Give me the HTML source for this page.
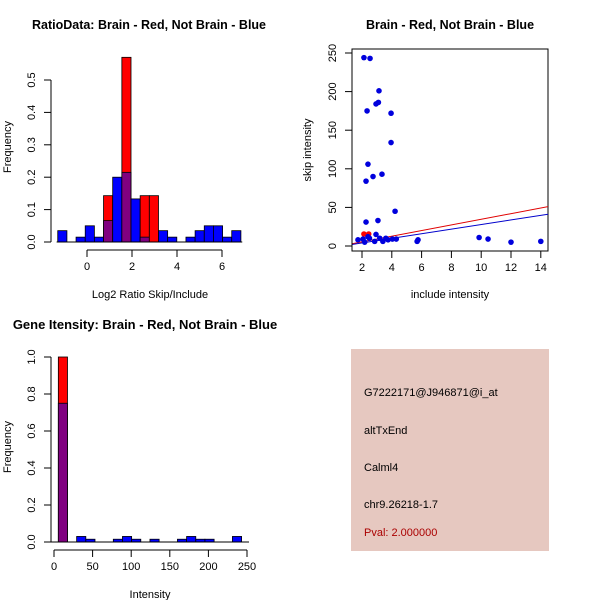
<!DOCTYPE html>
<html><head><meta charset="utf-8"><style>
html,body{margin:0;padding:0;background:#fff}
svg{display:block;font-family:"Liberation Sans",sans-serif}
</style></head><body>
<svg id="s" width="600" height="600" xmlns="http://www.w3.org/2000/svg"></svg>
<script>
// ---- Panel 1: ratio histogram ----
const ratioEdgeStart = -1.3, ratioBinWidth = 0.407;
const ratioBlue = [0.035,0,0.015,0.05,0.015,0.066,0.2,0.215,0.133,0.015,0,0.035,0.015,0,0.015,0.035,0.05,0.05,0.015,0.035];
const ratioRed  = [0,0,0,0,0,0.143,0,0.57,0,0.143,0.143,0,0,0,0,0,0,0,0,0];
const ratioXTicks = [0,2,4,6];
const ratioYTicks = [0,0.1,0.2,0.3,0.4,0.5];
// ---- Panel 2: scatter ----
const blueX = [2.13,2.54,3.14,3.1,2.94,2.34,3.95,3.95,2.4,2.74,3.34,2.27,4.22,3.07,2.27,9.86,10.46,12.0,14.0,5.7,5.76,1.73,2.07,2.5,2.94,3.19,3.75,4.04,4.3,3.4,2.85,2.4,2.18,3.6];
const blueY = [244,243,201,186,184,175,172,134,106,90,93,84,45,33,31,11,9,5,6,6,8,8,9,10,15,10,8,9,9,6,6,12,5,10];
const redX = [2.13,2.45];
const redY = [15.5,15.5];
const lineIntercepts = [-2,-2]; // red, blue
const lineSlopes = [3.66,2.98];
const scatXTicks = [2,4,6,8,10,12,14];
const scatYTicks = [0,50,100,150,200,250];
// ---- Panel 3: intensity histogram ----
const intEdgeStart = 5.6, intBinWidth = 11.87;
const intBlue = [0.75,0,0.03,0.015,0,0,0.015,0.03,0.015,0,0.015,0,0,0.015,0.03,0.015,0.015,0,0,0.03];
const intRed  = [1.0,0,0,0,0,0,0,0,0,0,0,0,0,0,0,0,0,0,0,0];
const intXTicks = [0,50,100,150,200,250];
const intYTicks = [0,0.2,0.4,0.6,0.8,1.0];

const svg = document.getElementById('s');
const NS = 'http://www.w3.org/2000/svg';
function el(tag, attrs, parent){const e=document.createElementNS(NS,tag);for(const k in attrs)e.setAttribute(k,attrs[k]);(parent||svg).appendChild(e);return e;}
function txt(x,y,s,attrs,parent){const t=el('text',Object.assign({x:x,y:y},attrs),parent);t.textContent=s;return t;}

function histogram(name, g, sx, sy, edge0, bw, blue, red, y0){
  for(let i=0;i<blue.length;i++){
    const x0=sx(edge0+i*bw), x1=sx(edge0+(i+1)*bw);
    const b=blue[i], r=red[i], m=Math.min(b,r), M=Math.max(b,r);
    if(M<=0) continue;
    const topCol = r>b ? '#ff0000' : '#0000ff';
    const bar=el('rect',{x:x0,y:sy(M),width:x1-x0,height:y0-sy(M),fill:topCol,stroke:'#000','stroke-width':0.8},g);
    
    
    if(m>0){
      const ov=el('rect',{x:x0,y:sy(m),width:x1-x0,height:y0-sy(m),fill:'#800080',stroke:'#000','stroke-width':0.8},g);
      
      
    }
  }
}
function xAxis(g, sx, ticks, y, fmt){
  el('line',{x1:sx(ticks[0]),x2:sx(ticks[ticks.length-1]),y1:y,y2:y,stroke:'#000'},g);
  ticks.forEach(t=>{el('line',{x1:sx(t),x2:sx(t),y1:y,y2:y+7,stroke:'#000'},g);
    txt(sx(t),y+20,fmt?fmt(t):String(t),{'font-size':11,'text-anchor':'middle'},g);});
}
function yAxis(g, sy, ticks, x, fmt){
  el('line',{x1:x,x2:x,y1:sy(ticks[0]),y2:sy(ticks[ticks.length-1]),stroke:'#000'},g);
  ticks.forEach(t=>{el('line',{x1:x-7,x2:x,y1:sy(t),y2:sy(t),stroke:'#000'},g);
    const yy=sy(t); const lx=x-16;
    txt(lx,yy,fmt?fmt(t):String(t),{'font-size':11,'text-anchor':'middle',transform:`rotate(-90 ${lx} ${yy})`},g);});
}

// Panel 1
{
  const g=el('g',{});
   
  const sx=v=>87+v*22.5, sy=v=>242-v*324;
  histogram('ratio',g,sx,sy,ratioEdgeStart,ratioBinWidth,ratioBlue,ratioRed,242);
  el('line',{x1:sx(-1.35),x2:sx(6.9),y1:242,y2:242,stroke:'#000','stroke-width':1},g);
  xAxis(g,sx,ratioXTicks,250);
  yAxis(g,sy,ratioYTicks,51,t=>t.toFixed(1));
  const t1=txt(149,29,'RatioData: Brain - Red, Not Brain - Blue',{'font-size':12.5,'font-weight':'bold','text-anchor':'middle'},g);
   
  txt(150,298,'Log2 Ratio Skip/Include',{'font-size':11,'text-anchor':'middle'},g);
  txt(11,147,'Frequency',{'font-size':11,'text-anchor':'middle',transform:'rotate(-90 11 147)'},g);
}
// Panel 2
{
  const g=el('g',{});
   
  const sx=v=>362+(v-2)*14.9, sy=v=>246-v*0.772;
  el('rect',{x:352,y:49,width:196,height:202,fill:'none',stroke:'#000'},g);
  const cp=el('clipPath',{id:'cp'},g); el('rect',{x:352,y:49,width:196,height:202},cp);
  const colors=['#e00000','#0000cc'];
  lineIntercepts.forEach((a,i)=>{
    const l=el('line',{x1:sx(1.3),y1:sy(a+lineSlopes[i]*1.3),x2:sx(14.5),y2:sy(a+lineSlopes[i]*14.5),stroke:colors[i],'stroke-width':1,'clip-path':'url(#cp)'},g);
    
    
  });
  redX.forEach((x,i)=>{const c=el('circle',{cx:sx(x),cy:sy(redY[i]),r:2.8,fill:'#ff0000'},g);
     });
  blueX.forEach((x,i)=>{const c=el('circle',{cx:sx(x),cy:sy(blueY[i]),r:2.8,fill:'#0000dd'},g);
     });
  xAxis(g,sx,scatXTicks,251);
  yAxis(g,sy,scatYTicks,352);
  txt(450,29,'Brain - Red, Not Brain - Blue',{'font-size':12.5,'font-weight':'bold','text-anchor':'middle'},g);
  txt(450,298,'include intensity',{'font-size':11,'text-anchor':'middle'},g);
  txt(311,150,'skip intensity',{'font-size':11,'text-anchor':'middle',transform:'rotate(-90 311 150)'},g);
}
// Panel 3
{
  const g=el('g',{});
   
  const sx=v=>54+v*0.772, sy=v=>542-v*185;
  histogram('intensity',g,sx,sy,intEdgeStart,intBinWidth,intBlue,intRed,542);
  el('line',{x1:51,x2:249,y1:542,y2:542,stroke:'#000'},g);
  xAxis(g,sx,intXTicks,550);
  yAxis(g,sy,intYTicks,51,t=>t.toFixed(1));
  txt(145,329,'Gene Itensity: Brain - Red, Not Brain - Blue',{'font-size':13,'font-weight':'bold','text-anchor':'middle'},g);
  txt(150,598,'Intensity',{'font-size':11,'text-anchor':'middle'},g);
  txt(11,447,'Frequency',{'font-size':11,'text-anchor':'middle',transform:'rotate(-90 11 447)'},g);
}
// Panel 4
{
  const g=el('g',{});
   
  el('rect',{x:351,y:349,width:198,height:202,fill:'#e6c8c0'},g);
  const lines=[['G7222171@J946871@i_at',396,'#000'],['altTxEnd',434,'#000'],['Calml4',471,'#000'],['chr9.26218-1.7',508,'#000'],['Pval: 2.000000',536,'#aa0000']];
  lines.forEach(([s,y,c])=>{const t=txt(364,y,s,{'font-size':11,fill:c},g);
     });
}
</script>
</body></html>
